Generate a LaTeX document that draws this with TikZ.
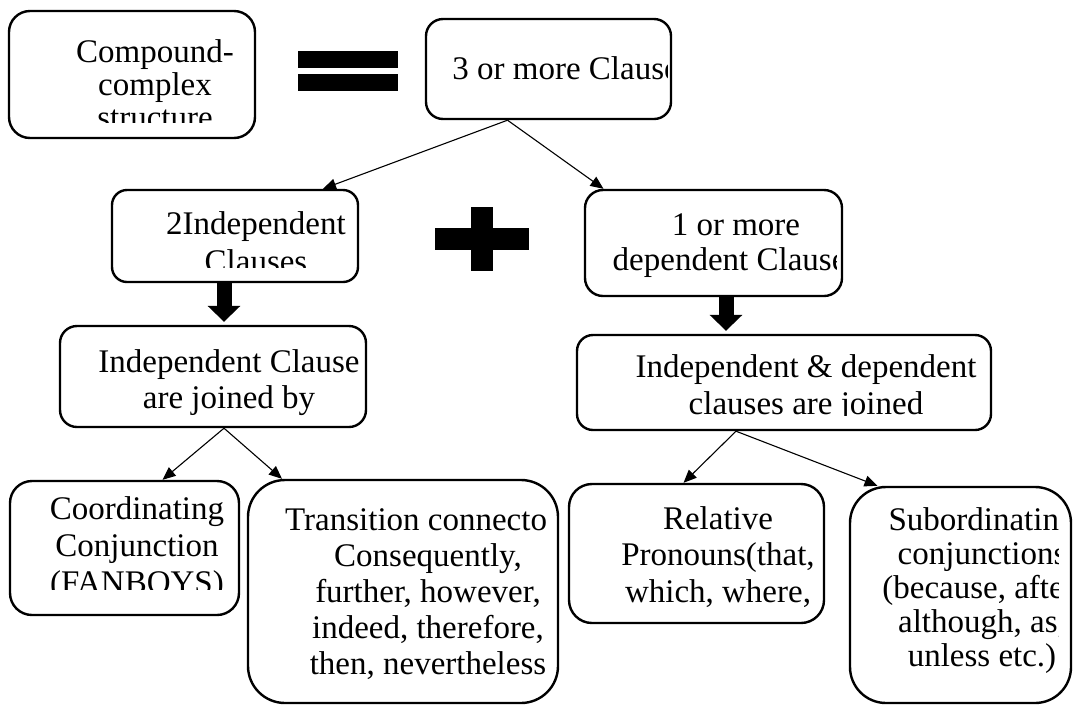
\documentclass[tikz,border=0pt]{standalone}
\usepackage{fontspec}
\setmainfont{Liberation Serif}
\usetikzlibrary{arrows.meta}
\tikzset{>={Triangle[length=13pt,width=11pt]}}
\tikzset{box/.style={draw, line width=2.4pt, inner sep=0pt},
txt/.style={align=center, anchor=base, inner sep=0pt, font=\fontsize{33pt}{#1pt}\selectfont},
thinarrow/.style={->, line width=1.1pt},
fat/.style={-{Triangle[length=16pt,width=32pt]}, line width=15pt, shorten >=3pt}}

\begin{document}
\begin{tikzpicture}[x=1pt,y=-1pt]
\useasboundingbox (0,0) rectangle (1073,705);
\node[box, minimum width=246pt, minimum height=127pt, rounded corners=21pt] (cmp) at (132,74.5) {};
\node[box, minimum width=245pt, minimum height=100pt, rounded corners=17pt] (three) at (548.5,69) {};
\node[box, minimum width=246pt, minimum height=92pt, rounded corners=15pt] (indep) at (235,236) {};
\node[box, minimum width=257pt, minimum height=106pt, rounded corners=18pt] (dep) at (713.5,243) {};
\node[box, minimum width=306pt, minimum height=101pt, rounded corners=17pt] (joinI) at (213,376.5) {};
\node[box, minimum width=414pt, minimum height=95pt, rounded corners=16pt] (joinD) at (784,382.5) {};
\node[box, minimum width=229pt, minimum height=134pt, rounded corners=22pt] (coord) at (124.5,548) {};
\node[box, minimum width=310pt, minimum height=223pt, rounded corners=37pt] (trans) at (403,591.5) {};
\node[box, minimum width=255pt, minimum height=139pt, rounded corners=23pt] (rel) at (696.5,553.5) {};
\node[box, minimum width=221pt, minimum height=216pt, rounded corners=36pt] (sub) at (960.5,595) {};
\begin{scope}
\clip (12,14) rectangle (252,122);
\node[txt=33] (cmptxt) at (155,128) {Compound-\\complex\\structure};
\end{scope}
\begin{scope}
\clip (429,22) rectangle (667,116);
\node[txt=36] (threetxt) at (572,79) {3 or more Clauses};
\end{scope}
\begin{scope}
\clip (115,193) rectangle (355,267);
\node[txt=38] (indeptxt) at (256,272) {2Independent\\Clauses};
\end{scope}
\begin{scope}
\clip (588,193) rectangle (836,293);
\node[txt=35] (deptxt) at (736,270) {1 or more\\dependent Clauses};
\end{scope}
\begin{scope}
\clip (63,329) rectangle (363,417);
\node[txt=36] (joinItxt) at (229,408) {Independent Clause\\are joined by};
\end{scope}
\begin{scope}
\clip (580,338) rectangle (988,415);
\node[txt=37] (joinDtxt) at (806,414) {Independent \& dependent\\clauses are joined};
\end{scope}
\begin{scope}
\clip (13,484) rectangle (236,589);
\node[txt=37] (coordtxt) at (137,593) {Coordinating\\Conjunction\\(FANBOYS)};
\end{scope}
\begin{scope}
\clip (251,483) rectangle (546,700);
\node[txt=36] (transtxt) at (428,674) {Transition connectors\\Consequently,\\further, however,\\indeed, therefore,\\then, nevertheless};
\end{scope}
\begin{scope}
\clip (572,487) rectangle (821,620);
\node[txt=36.5] (reltxt) at (718,602) {Relative\\Pronouns(that,\\which, where,};
\end{scope}
\begin{scope}
\clip (853,490) rectangle (1058,700);
\node[txt=34] (subtxt) at (982,666) {Subordinating\\conjunctions\\(because, after,\\although, as,\\unless etc.)};
\end{scope}
\fill (298,51) rectangle (398,68);
\fill (298,74) rectangle (398,91);
\fill (435,228) rectangle (529,250);
\fill (471,207) rectangle (493,271);
\draw[thinarrow] ([xshift=-41pt]three.south) -- ([xshift=88pt]indep.north);
\draw[thinarrow] ([xshift=-41pt]three.south) -- ([xshift=-110pt]dep.north);
\draw[fat] ([xshift=-11pt]indep.south) -- ([xshift=-11pt]indep.south |- joinI.north);
\draw[fat] ([xshift=12.5pt]dep.south) -- ([xshift=12.5pt]dep.south |- joinD.north);
\draw[thinarrow] ([xshift=11pt]joinI.south) -- ([xshift=38pt]coord.north);
\draw[thinarrow] ([xshift=11pt]joinI.south) -- ([xshift=-121pt]trans.north);
\draw[thinarrow] ([xshift=-48pt]joinD.south) -- ([xshift=-13pt]rel.north);
\draw[thinarrow] ([xshift=-48pt]joinD.south) -- ([xshift=-83pt]sub.north);
\end{tikzpicture}
\end{document}
